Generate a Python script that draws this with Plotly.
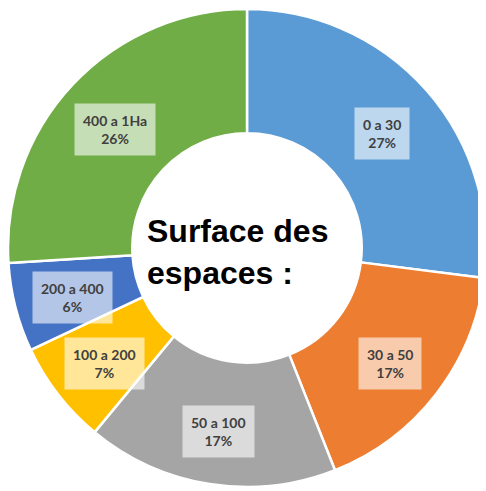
import math
import plotly.graph_objects as go

labels = ['0 a 30', '30 a 50', '50 a 100', '100 a 200', '200 a 400', '400 a 1Ha']
values = [27, 17, 17, 7, 6, 26]
colors = ['#5B9BD5', '#ED7D31', '#A5A5A5', '#FFC000', '#4472C4', '#70AD47']
center_title = 'Surface des<br>espaces :'

W, H = 486, 491
# the page body adds 8px on the left and top
margin = dict(l=0, r=8, t=0, b=11)
hole = 0.48

fig = go.Figure(data=[go.Pie(labels=labels, values=values, hole=hole,
                             sort=False, direction='clockwise', rotation=0,
                             marker=dict(colors=colors, line=dict(color='white', width=2.5)),
                             textinfo='none', hoverinfo='label+percent',
                             showlegend=False)])

# label boxes placed at the middle of each ring segment
pw = W - margin['l'] - margin['r']
ph = H - margin['t'] - margin['b']
radius = min(pw, ph) / 2
r_lab = radius * (1 + hole) / 2 * 1.02
total = sum(values)
cum = 0
annotations = []
for lab, v in zip(labels, values):
    mid = (cum + v / 2) / total * 2 * math.pi
    cum += v
    x = 0.5 + r_lab * math.sin(mid) / pw
    y = 0.5 + r_lab * math.cos(mid) / ph
    annotations.append(dict(x=x, y=y, xref='paper', yref='paper', showarrow=False,
                            xanchor='center', yanchor='middle', yshift=-5,
                            text=f'{lab}<br>{round(v / total * 100)}%',
                            font=dict(family='Lato', size=14, color='#404040', weight='bold'),
                            bgcolor='rgba(255,255,255,0.6)', borderpad=8))

annotations.append(dict(x=0.481, y=0.491, xref='paper', yref='paper', showarrow=False,
                        xanchor='center', yanchor='middle',
                        text=center_title, align='left',
                        font=dict(family='Liberation Sans', size=32, color='black', weight='bold')))

fig.update_layout(width=W, height=H, margin=margin,
                  paper_bgcolor='white', plot_bgcolor='white',
                  annotations=annotations)

fig.write_html("out.html")
